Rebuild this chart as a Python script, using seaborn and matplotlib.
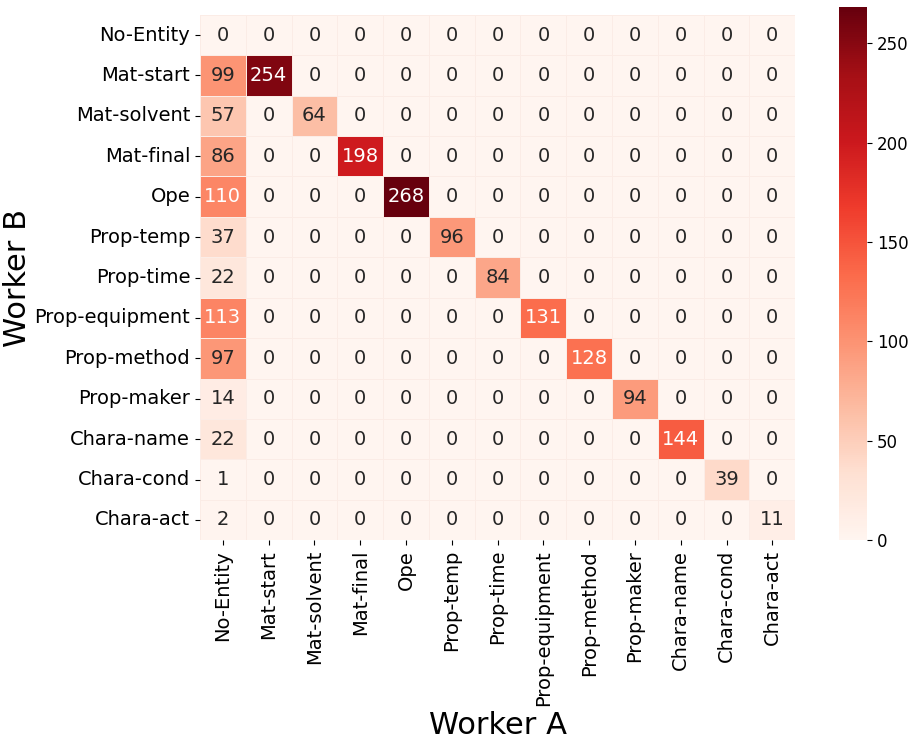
import numpy as np
import pandas as pd
import matplotlib
matplotlib.use("Agg")
import matplotlib.pyplot as plt
import seaborn as sns

labels = ['No-Entity', 'Mat-start', 'Mat-solvent', 'Mat-final', 'Ope',
          'Prop-temp', 'Prop-time', 'Prop-equipment', 'Prop-method',
          'Prop-maker', 'Chara-name', 'Chara-cond', 'Chara-act']

# first column (No-Entity) counts and the diagonal counts
first_col = [0, 99, 57, 86, 110, 37, 22, 113, 97, 14, 22, 1, 2]
diagonal = [0, 254, 64, 198, 268, 96, 84, 131, 128, 94, 144, 39, 11]

mat = np.zeros((len(labels), len(labels)), dtype=int)
for i in range(len(labels)):
    mat[i, 0] = first_col[i]
    mat[i, i] = diagonal[i]

df = pd.DataFrame(mat, index=labels, columns=labels)

fig = plt.figure(figsize=(9.13, 7.42), dpi=100)
ax = fig.add_axes([0.219, 0.272, 0.652, 0.708])
cax = fig.add_axes([0.919, 0.272, 0.031, 0.718])

sns.heatmap(df, annot=True, fmt='d', cmap='Reds', linewidths=0.5,
            linecolor='#fbece6', ax=ax, cbar_ax=cax,
            annot_kws={'size': 14})

ax.tick_params(axis='both', labelsize=14)
ax.set_xticklabels(labels, rotation=90)
ax.set_yticklabels(labels, rotation=0)
ax.set_xlabel('Worker A', fontsize=22)
ax.set_ylabel('Worker B', fontsize=22, labelpad=2)
cax.tick_params(labelsize=12)

plt.savefig('out.png', dpi=100)
